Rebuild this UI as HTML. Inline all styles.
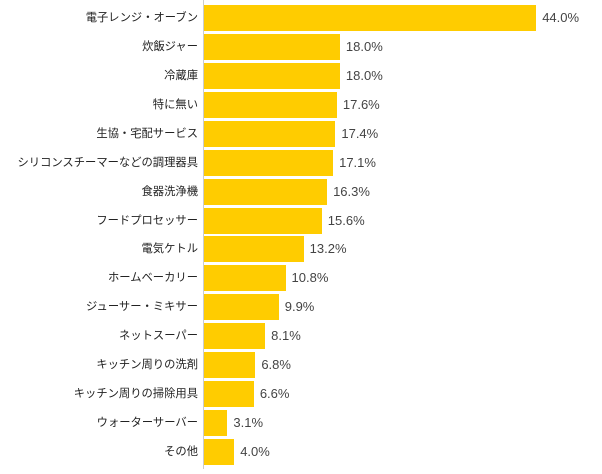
<!DOCTYPE html>
<html><head><meta charset="utf-8"><style>
body{margin:0;width:602px;height:474px;background:#fff;position:relative;overflow:hidden;font-family:"Liberation Sans","Noto Sans CJK JP",sans-serif;}
.ax{position:absolute;left:203px;top:0;width:1px;height:469px;background:#ccc;}
.b{position:absolute;left:204px;height:26px;background:#ffcc00;}
.l{position:absolute;right:404px;font-size:11.3px;color:#222;line-height:26px;white-space:nowrap;}
.v{position:absolute;font-size:13px;color:#444;line-height:26px;}
</style></head><body>
<div class="ax"></div>
<div id="c"></div>
<script>
var d=[["電子レンジ・オーブン",44.0],["炊飯ジャー",18.0],["冷蔵庫",18.0],["特に無い",17.6],["生協・宅配サービス",17.4],["シリコンスチーマーなどの調理器具",17.1],["食器洗浄機",16.3],["フードプロセッサー",15.6],["電気ケトル",13.2],["ホームベーカリー",10.8],["ジューサー・ミキサー",9.9],["ネットスーパー",8.1],["キッチン周りの洗剤",6.8],["キッチン周りの掃除用具",6.6],["ウォーターサーバー",3.1],["その他",4.0]];
var h="";
d.forEach(function(r,i){var t=5+i*28.93;var w=r[1]*7.55;
h+='<div class="b" style="top:'+t+'px;width:'+w+'px"></div>';
h+='<div class="l" style="top:'+t+'px">'+r[0]+'</div>';
h+='<div class="v" style="top:'+t+'px;left:'+(204+w+6)+'px">'+r[1].toFixed(1)+'%</div>';});
document.getElementById("c").innerHTML=h;
</script>
</body></html>
